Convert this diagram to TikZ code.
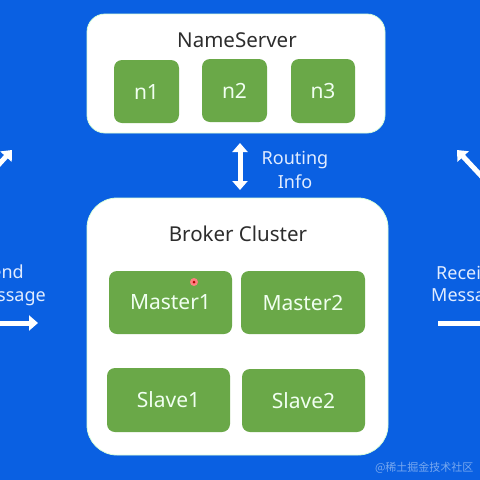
\documentclass[tikz,border=0pt]{standalone}
\usepackage{fontspec}
\setmainfont{Noto Sans}
\newfontfamily\cjk{Noto Sans CJK SC}
\usetikzlibrary{arrows.meta}
\definecolor{bgblue}{RGB}{10,96,226}
\definecolor{grn}{RGB}{106,168,72}
\definecolor{ttl}{RGB}{45,45,45}
\definecolor{lbl}{RGB}{225,236,255}
\tikzset{
  panel/.style={fill=white, draw=white!85!green, line width=0.8pt},
  cell/.style={fill=grn, rounded corners=8pt, text=white!94!green, font=\fontsize{21}{24}\selectfont, inner sep=0pt},
  ttltext/.style={text=ttl, font=\fontsize{20.5}{24}\selectfont},
  lbltext/.style={text=lbl, font=\fontsize{18}{24}\selectfont, align=center, inner sep=0pt},
  wharrow/.style={draw=white, line width=5pt, -{Triangle[width=15pt,length=9pt]}},
  whdarrow/.style={draw=white, line width=5pt, {Triangle[width=15pt,length=9pt]}-{Triangle[width=15pt,length=9pt]}}
}
\begin{document}
\begin{tikzpicture}[x=1pt,y=-1pt]
\useasboundingbox (0,0) rectangle (480,480);
\clip (0,0) rectangle (480,480);
\fill[bgblue] (0,0) rectangle (480,480);
% NameServer panel
\draw[panel, rounded corners=18pt] (87,14) rectangle (385,133);
\node[ttltext] (ns) at (237,40) {NameServer};
\node[cell, minimum width=65pt, minimum height=63pt] (n1) at (146.5,91.5) {n1};
\node[cell, minimum width=65pt, minimum height=63pt] (n2) at (234.5,90.5) {n2};
\node[cell, minimum width=64pt, minimum height=64pt] (n3) at (323,91) {n3};
% Broker panel
\draw[panel, rounded corners=30pt] (87,198) rectangle (388,455);
\node[ttltext] (bc) at (238,234) {Broker Cluster};
\node[cell, minimum width=123pt, minimum height=63pt] (m1) at (170.5,302.5) {Master1};
\node[cell, minimum width=124pt, minimum height=63pt] (m2) at (303,302.5) {Master2};
\node[cell, minimum width=123pt, minimum height=64pt] (s1) at (168.5,400) {Slave1};
\node[cell, minimum width=123pt, minimum height=63pt] (s2) at (303.5,400.5) {Slave2};
\fill[red!50!white] (194,282) circle (4pt);
\fill[red!70!black] (194,282) circle (1.5pt);
% routing
\coordinate (ra) at (240,143);
\coordinate (rb) at (240,190);
\draw[whdarrow] (ra) -- (rb);
\node[lbltext] (ri) at (295,170) {Routing\\Info};
% left side
\node[lbltext, anchor=east] (sd) at (24,272) {Send};
\node[lbltext, anchor=east] (sm) at (46,297) {Message};
\coordinate (la) at (-12,323);
\coordinate (lb) at (38,323);
\draw[wharrow] (la) -- (lb);
\coordinate (lc) at (-8,172);
\coordinate (ld) at (12,150);
\draw[wharrow] (lc) -- (ld);
% right side
\node[lbltext, anchor=west] (rv) at (436,273) {Receive};
\node[lbltext, anchor=west] (rm) at (431,297) {Message};
\coordinate (rc) at (438,323);
\coordinate (rd) at (500,323);
\draw[wharrow] (rc) -- (rd);
\coordinate (re) at (485,180);
\coordinate (rf) at (457,150);
\draw[wharrow] (re) -- (rf);
% watermark
\node[text=white!45!bgblue, font=\cjk\fontsize{11}{13}\selectfont, anchor=east] (wm) at (477,468) {@稀土掘金技术社区};
\end{tikzpicture}
\end{document}
